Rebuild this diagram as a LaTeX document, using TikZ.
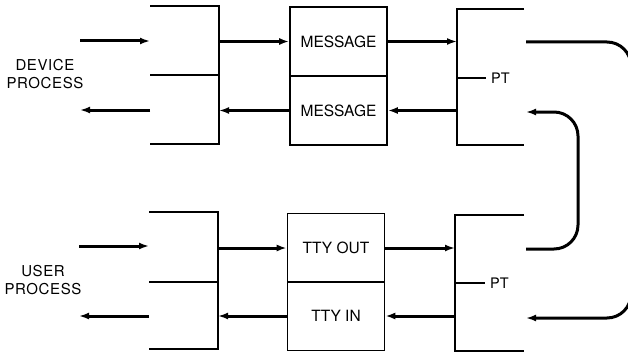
\documentclass[tikz,border=0pt]{standalone}
\usepackage{fontspec}
\setmainfont{TeX Gyre Heros}
\usetikzlibrary{arrows.meta}
\begin{document}
\begin{tikzpicture}[x=1pt,y=-1pt,
  thinline/.style={line width=1.6pt},
  flow/.style={line width=3pt,-{Latex[length=10pt,width=7pt]}},
  loopline/.style={line width=3pt,rounded corners=24pt,-{Latex[length=10pt,width=7pt]}},
  buf/.style={draw,line width=1.6pt,minimum width=97pt,minimum height=69pt,inner sep=0pt,font=\fontsize{15.5}{18}\selectfont},
  proc/.style={align=center,font=\fontsize{15}{18}\selectfont\addfontfeature{LetterSpace=4},inner sep=0pt},
  ptlabel/.style={anchor=west,font=\fontsize{14.5}{16}\selectfont,inner sep=0pt}]
\useasboundingbox (0,0) rectangle (628,353);
\clip (0,0) rectangle (628,353);

% ---------- device side ----------
\node[proc] (dev) at (45,74) {DEVICE\\PROCESS};
\coordinate (dlt) at (150,6);
\coordinate (dlb) at (150,144);
\coordinate (dlm) at (150,75);
\coordinate (dv) at (219,75);
\draw[thinline] (dlt) -| (dv) |- (dlb);
\draw[thinline] (dlm) -- (dv);
\coordinate (di0) at (80,41);
\coordinate (di1) at (150,41);
\coordinate (do0) at (150,110);
\coordinate (do1) at (80,110);
\draw[flow] (di0) -- (di1);
\draw[flow] (do0) -- (do1);

\node[buf] (m1) at (338.5,41.5) {MESSAGE};
\node[buf] (m2) at (338.5,110.5) {MESSAGE};

\draw[flow] (m1.west -| dv) -- (m1.west);
\draw[flow] (m2.west) -- (m2.west -| dv);

% device-side pseudo terminal
\coordinate (p1t) at (524,9);
\coordinate (p1b) at (524,145);
\coordinate (p1v) at (457,78);
\coordinate (p1m) at (486,78);
\draw[thinline] (p1t) -| (p1v) |- (p1b);
\draw[thinline] (p1v) -- (p1m);
\node[ptlabel] (pt1) at (491,78) {PT};
\draw[flow] (m1.east) -- (m1.east -| p1v);
\draw[flow] (m2.east -| p1v) -- (m2.east);

% ---------- user side ----------
\node[proc] (usr) at (43,280) {USER\\PROCESS};
\coordinate (ult) at (149,212);
\coordinate (ulb) at (149,349);
\coordinate (ulm) at (149,282);
\coordinate (uv) at (218,282);
\draw[thinline] (ult) -| (uv) |- (ulb);
\draw[thinline] (ulm) -- (uv);
\coordinate (ui0) at (79,246);
\coordinate (ui1) at (149,246);
\coordinate (uo0) at (149,316);
\coordinate (uo1) at (79,316);
\draw[flow] (ui0) -- (ui1);
\draw[flow] (uo0) -- (uo1);

\node[buf] (t1) at (336,248) {TTY OUT};
\node[buf] (t2) at (336,316) {TTY IN};

\draw[flow] (t1.west -| uv) -- (t1.west);
\draw[flow] (t2.west) -- (t2.west -| uv);

% user-side pseudo terminal
\coordinate (p2t) at (524,215);
\coordinate (p2b) at (524,351);
\coordinate (p2v) at (455,283);
\coordinate (p2m) at (485,283);
\draw[thinline] (p2t) -| (p2v) |- (p2b);
\draw[thinline] (p2v) -- (p2m);
\node[ptlabel] (pt2) at (490,283) {PT};
\draw[flow] (t1.east) -- (t1.east -| p2v);
\draw[flow] (t2.east -| p2v) -- (t2.east);

% ---------- cross connections between the pseudo terminals ----------
\coordinate (a0) at (526,42);
\coordinate (a1) at (526,318);
\coordinate (b0) at (526,249);
\coordinate (b1) at (526,112);
\draw[loopline] (a0) -- (631,42) -- (631,318) -- (a1);
\draw[loopline] (b0) -- (578,249) -- (578,112) -- (b1);
\end{tikzpicture}
\end{document}
